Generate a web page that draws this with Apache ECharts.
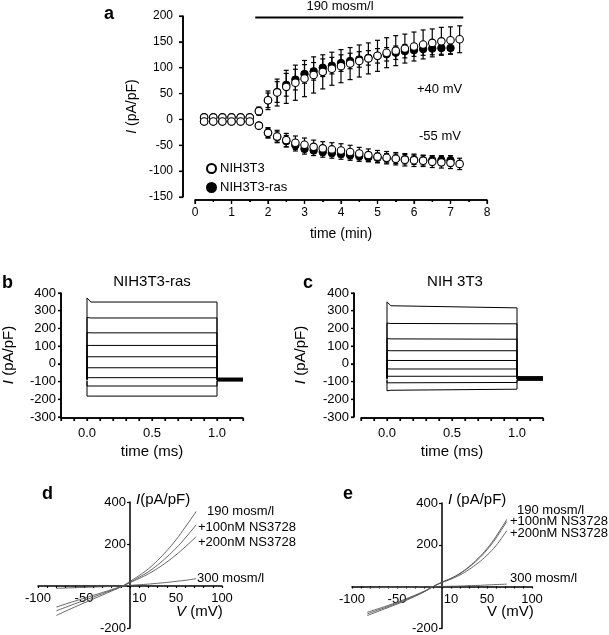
<!DOCTYPE html>
<html>
<head>
<meta charset="utf-8">
<script src="https://cdn.jsdelivr.net/npm/echarts@6/dist/echarts.min.js"></script>
<style>
  html, body { margin: 0; padding: 0; background: #fff; }
  #main { width: 609px; height: 635px; }
</style>
</head>
<body>
<div id="main"></div>
<script>
// ---- panel a : current vs time ----
var tOpen = [0.25, 0.5, 0.75, 1, 1.25, 1.5, 1.75, 2, 2.25, 2.5, 2.75, 3, 3.25, 3.5, 3.75, 4, 4.25, 4.5, 4.75, 5, 5.25, 5.5, 5.75, 6, 6.25, 6.5, 6.75, 7, 7.25];
var tRas = [0.25, 0.5, 0.75, 1, 1.25, 1.5, 1.75, 2, 2.25, 2.5, 2.75, 3, 3.25, 3.5, 3.75, 4, 4.25, 4.5, 4.75, 5, 5.25, 5.5, 5.75, 6, 6.25, 6.5, 6.75, 7];
var openUp = [4, 4, 4, 4, 4, 4, 16, 37, 52, 63, 71, 79, 86, 92, 98, 103, 108, 113, 118, 123, 129, 133, 137, 141, 145, 148, 151, 153, 155];
var openUpErr = [0, 0, 0, 0, 0, 0, 8, 18, 26, 32, 34, 35, 35, 33, 32, 32, 31, 31, 30, 30, 29, 29, 28, 28, 28, 27, 27, 26, 26];
var rasUp = [4, 4, 4, 4, 4, 4, 16, 37, 53, 67, 77, 88, 93, 100, 104, 109, 113, 116, 119, 123, 126, 129, 132, 134, 136, 137, 138, 138];
var rasUpErr = [0, 0, 0, 0, 0, 0, 6, 14, 20, 22, 20, 18, 17, 17, 16, 16, 15, 15, 14, 14, 13, 13, 13, 12, 12, 12, 12, 12];
var openDown = [-4, -4, -4, -4, -4, -4, -12, -26, -33, -40, -45, -49, -53, -56, -58, -60, -63, -66, -69, -72, -74, -76, -78, -79, -80, -82, -83, -84, -86];
var openDownErr = [0, 0, 0, 0, 0, 0, 5, 10, 12, 13, 13, 13, 13, 13, 13, 13, 13, 12, 12, 12, 12, 12, 12, 12, 11, 11, 11, 11, 11];
var rasDown = [-4, -4, -4, -4, -4, -4, -12, -26, -34, -42, -50, -57, -60, -63, -65, -67, -69, -71, -73, -74, -75, -76, -77, -78, -79, -79, -79, -79];
var rasDownErr = [0, 0, 0, 0, 0, 0, 5, 9, 10, 11, 11, 10, 10, 10, 10, 10, 10, 10, 9, 9, 9, 9, 9, 9, 9, 9, 9, 9];
var hypoBar = [[1.65, 197], [7.35, 197]];

// ---- panels b, c : current traces ----
var bStart = [372, 262, 176, 104, 40, -22, -78, -125, -182];
var bLevel = [349, 259, 175, 104, 40, -22, -78, -125, -182];
var bEnd = [349, 259, 175, 104, 40, -22, -78, -125, -182];
var bTail = [-80, -83, -85, -87, -89, -91, -93, -95, -97];
var cStart = [350, 230, 142, 75, 20, -28, -70, -107, -152];
var cLevel = [328, 228, 141, 74, 19, -29, -70, -107, -149];
var cEnd = [316, 226, 139, 74, 19, -29, -70, -105, -143];
var cTail = [-72, -75, -78, -80, -83, -85, -88, -90, -93];
var stepT = [0, 0, 0.03, 1.0, 1.0, 1.2];

// ---- panels d, e : I-V curves ----
var dV = [-80, -60, -40, -20, -8, 0, 10, 20, 30, 40, 50, 60, 72];
var d190 = [-140, -100, -62, -24, 0, 22, 50, 82, 122, 168, 220, 280, 355];
var d100 = [-118, -85, -53, -20, 0, 18, 42, 68, 100, 138, 180, 228, 292];
var d200 = [-100, -72, -45, -17, 0, 16, 36, 58, 84, 114, 148, 186, 235];
var d300 = [-11, -8, -5, -2, 0, 3, 6, 9, 13, 17, 22, 27, 35];
var eV = [-83, -60, -40, -20, -10, 0, 10, 20, 30, 40, 50, 60, 72];
var e190 = [-138, -100, -66, -25, 0, 22, 40, 64, 96, 135, 182, 240, 322];
var e100 = [-130, -95, -62, -24, 0, 21, 39, 62, 93, 130, 176, 232, 312];
var e200 = [-122, -90, -58, -22, 0, 20, 36, 56, 82, 113, 150, 196, 268];
var e300 = [-5, -4, -3, -1, 0, 1, 2, 3, 5, 6, 8, 10, 12];
var ivTickLabels = [-100, -50, 10, 50, 100];

var FONT = '"Liberation Sans", Arial, sans-serif';
var chart = echarts.init(document.getElementById('main'));

function zip(xs, ys) {
    return xs.map(function (x, i) { return [x, ys[i]]; });
}

function steps(min, max, step) {
    var out = [];
    var n = Math.round((max - min) / step);
    for (var k = 0; k <= n; k++) out.push(+(min + k * step).toFixed(6));
    return out;
}

function errData(xs, ys, errs) {
    var out = [];
    for (var i = 0; i < xs.length; i++) {
        if (errs[i] > 0) out.push([xs[i], ys[i] - errs[i], ys[i] + errs[i]]);
    }
    return out;
}

function errSeries(xs, ys, errs) {
    return {
        type: 'custom',
        xAxisIndex: 0,
        yAxisIndex: 0,
        z: 2,
        silent: true,
        encode: { x: 0, y: [1, 2] },
        data: errData(xs, ys, errs),
        renderItem: function (params, api) {
            var x = api.value(0);
            var lo = api.coord([x, api.value(1)]);
            var hi = api.coord([x, api.value(2)]);
            var w = 2.5;
            var st = { stroke: '#000', lineWidth: 1.2 };
            return {
                type: 'group',
                children: [
                    { type: 'line', shape: { x1: lo[0], y1: lo[1], x2: hi[0], y2: hi[1] }, style: st },
                    { type: 'line', shape: { x1: lo[0] - w, y1: lo[1], x2: lo[0] + w, y2: lo[1] }, style: st },
                    { type: 'line', shape: { x1: hi[0] - w, y1: hi[1], x2: hi[0] + w, y2: hi[1] }, style: st }
                ]
            };
        }
    };
}

// detached axis frame (lines + ticks) drawn through the grid's own scales
function frameSeries(idx, xr, yr, xTicks, yTicks, xMinor, f) {
    return {
        type: 'custom',
        xAxisIndex: idx,
        yAxisIndex: idx,
        clip: false,
        silent: true,
        z: 5,
        encode: { x: 0, y: 1 },
        data: [[xr[0], yr[0]]],
        renderItem: function (params, api) {
            var bl = api.coord([xr[0], yr[0]]);
            var br = api.coord([xr[1], yr[0]]);
            var tl = api.coord([xr[0], yr[1]]);
            var lx = bl[0] - f.yOff;
            var ly = bl[1] + f.xOff;
            var st = { stroke: '#000', lineWidth: 1.6 };
            var tk = { stroke: '#000', lineWidth: 1.2 };
            var kids = [
                { type: 'line', shape: { x1: lx, y1: tl[1], x2: lx, y2: bl[1] }, style: st },
                { type: 'line', shape: { x1: bl[0], y1: ly, x2: br[0], y2: ly }, style: st }
            ];
            yTicks.forEach(function (v) {
                var p = api.coord([xr[0], v]);
                kids.push({ type: 'line', shape: { x1: lx - f.len, y1: p[1], x2: lx, y2: p[1] }, style: tk });
            });
            xTicks.forEach(function (v) {
                var p = api.coord([v, yr[0]]);
                kids.push({ type: 'line', shape: { x1: p[0], y1: ly, x2: p[0], y2: ly + f.len }, style: tk });
            });
            xMinor.forEach(function (v) {
                var p = api.coord([v, yr[0]]);
                kids.push({ type: 'line', shape: { x1: p[0], y1: ly, x2: p[0], y2: ly + f.len / 2 }, style: tk });
            });
            return { type: 'group', children: kids };
        }
    };
}

function traceSeries(start, level, end, tail, idx) {
    var list = [];
    for (var i = 0; i < level.length; i++) {
        var vals = [tail[i], start[i], level[i], end[i], tail[i], tail[i]];
        list.push({
            type: 'line',
            xAxisIndex: idx,
            yAxisIndex: idx,
            symbol: 'none',
            silent: true,
            lineStyle: { color: '#000', width: 1 },
            data: zip(stepT, vals)
        });
    }
    return list;
}

function ivSeries(xs, ys, idx) {
    return {
        type: 'line',
        xAxisIndex: idx,
        yAxisIndex: idx,
        symbol: 'none',
        smooth: 0.4,
        silent: true,
        lineStyle: { color: '#555', width: 0.9 },
        data: zip(xs, ys)
    };
}

function lbl(extra) {
    return Object.assign({ color: '#000', fontFamily: FONT, fontSize: 13 }, extra || {});
}
function axLine(w) {
    return { show: true, onZero: false, lineStyle: { color: '#000', width: w || 1.6 } };
}
function ticks(len) {
    return { show: true, length: len, lineStyle: { color: '#000', width: 1.2 } };
}

function traceX(idx, off) {
    return {
        gridIndex: idx, type: 'value', position: 'bottom', min: -0.2, max: 1.2, interval: 0.1, offset: off,
        axisLine: axLine(),
        axisTick: ticks(3),
        splitLine: { show: false },
        axisLabel: lbl({
            margin: 9,
            formatter: function (v) {
                return Math.abs(v * 2 - Math.round(v * 2)) < 1e-6 ? v.toFixed(1) : '';
            }
        }),
        name: 'time (ms)', nameLocation: 'middle', nameGap: 26,
        nameTextStyle: { color: '#000', fontFamily: FONT, fontSize: 15 }
    };
}

function traceY(idx, off, gap) {
    return {
        gridIndex: idx, type: 'value', position: 'left', min: -300, max: 400, interval: 100, offset: off,
        axisLine: axLine(),
        axisTick: ticks(3),
        splitLine: { show: false },
        axisLabel: lbl({ margin: 5 }),
        name: '{i|I} (pA/pF)', nameLocation: 'middle', nameGap: gap, nameRotate: 90,
        nameTextStyle: {
            color: '#000', fontFamily: FONT, fontSize: 15,
            rich: { i: { fontStyle: 'italic', fontSize: 15, fontFamily: FONT, color: '#000' } }
        }
    };
}

// the I-V axes cross at zero; negative offsets pull them into the grid
function ivX(idx) {
    return {
        gridIndex: idx, type: 'value', position: 'bottom', min: -100, max: 100, interval: 10, offset: -42,
        axisLine: axLine(1.5),
        axisTick: ticks(2),
        splitLine: { show: false },
        axisLabel: lbl({
            margin: 6,
            showMinLabel: true, showMaxLabel: true,
            formatter: function (v) {
                return ivTickLabels.indexOf(Math.round(v)) >= 0 ? String(Math.round(v)) : '';
            }
        })
    };
}

function ivY(idx, off) {
    return {
        gridIndex: idx, type: 'value', position: 'left', min: -200, max: 400, interval: 200, offset: off,
        axisLine: axLine(1.5),
        axisTick: ticks(3),
        splitLine: { show: false },
        axisLabel: lbl({
            margin: 4,
            formatter: function (v) { return v === 0 ? '' : String(v); }
        })
    };
}

function txt(x, y, s, opts) {
    return {
        type: 'text', x: x, y: y, silent: true,
        style: Object.assign({ text: s, fill: '#000', font: '13px ' + FONT, textVerticalAlign: 'middle' }, opts || {})
    };
}
var italicRich = { i: { fontStyle: 'italic', fontSize: 15, fontFamily: FONT } };

var option = {
    animation: false,
    backgroundColor: '#fff',
    textStyle: { fontFamily: FONT },
    grid: [
        { left: 195, top: 16, width: 292, height: 181 },
        { left: 61, top: 293, width: 182, height: 124 },
        { left: 361, top: 293, width: 182, height: 124 },
        { left: 38, top: 502, width: 184, height: 126 },
        { left: 352, top: 503, width: 180, height: 126 }
    ],
    legend: {
        left: 201, top: 157, orient: 'vertical', itemGap: 6,
        itemWidth: 9, itemHeight: 9, icon: 'circle',
        textStyle: { color: '#000', fontFamily: FONT, fontSize: 13, padding: [0, 0, 0, -1] },
        data: ['NIH3T3', 'NIH3T3-ras']
    },
    xAxis: [
        {
            gridIndex: 0, type: 'value', position: 'bottom', min: 0, max: 8, interval: 1, offset: 3,
            axisLine: axLine(),
            axisTick: ticks(4),
            minorTick: { show: true, splitNumber: 2, length: 2, lineStyle: { color: '#000', width: 1.2 } },
            splitLine: { show: false },
            axisLabel: lbl({ fontSize: 12, margin: 7 }),
            name: 'time (min)', nameLocation: 'middle', nameGap: 27,
            nameTextStyle: { color: '#000', fontFamily: FONT, fontSize: 14 }
        },
        traceX(1, 1), traceX(2, 1), ivX(3), ivX(4)
    ],
    yAxis: [
        {
            gridIndex: 0, type: 'value', position: 'left', min: -150, max: 200, interval: 50, offset: 12,
            axisLine: axLine(),
            axisTick: ticks(4),
            splitLine: { show: false },
            axisLabel: lbl({ fontSize: 12, margin: 10 }),
            name: '{i|I} (pA/pF)', nameLocation: 'middle', nameGap: 44, nameRotate: 90,
            nameTextStyle: {
                color: '#000', fontFamily: FONT, fontSize: 14,
                rich: { i: { fontStyle: 'italic', fontSize: 14, fontFamily: FONT, color: '#000' } }
            }
        },
        traceY(1, 0, 45), traceY(2, 7, 46), ivY(3, -92), ivY(4, -90)
    ],
    graphic: [
        txt(104, 14, 'a', { font: 'bold 18px ' + FONT }),
        txt(340, 6, '190 mosm/l', { textAlign: 'center' }),
        txt(417, 89, '+40 mV'),
        txt(419, 136, '-55 mV'),
        txt(2, 283, 'b', { font: 'bold 18px ' + FONT }),
        txt(152, 282, 'NIH3T3-ras', { textAlign: 'center', font: '15px ' + FONT }),
        txt(303, 283, 'c', { font: 'bold 18px ' + FONT }),
        txt(455, 282, 'NIH 3T3', { textAlign: 'center', font: '15px ' + FONT }),
        txt(42, 494, 'd', { font: 'bold 18px ' + FONT }),
        txt(136, 500, '{i|I}(pA/pF)', { font: '15px ' + FONT, rich: italicRich }),
        txt(176, 612, '{i|V} (mV)', { font: '15px ' + FONT, rich: italicRich }),
        txt(207, 511, '190 mosm/l'),
        txt(198, 527, '+100nM NS3728'),
        txt(198, 542, '+200nM NS3728'),
        txt(197, 578, '300 mosm/l'),
        txt(343, 494, 'e', { font: 'bold 18px ' + FONT }),
        txt(448, 500, '{i|I} (pA/pF)', { font: '15px ' + FONT, rich: italicRich }),
        txt(487, 612, 'V (mV)', { font: '15px ' + FONT }),
        txt(517, 510, '190 mosm/l'),
        txt(510, 521, '+100nM NS3728'),
        txt(510, 533, '+200nM NS3728'),
        txt(510, 578, '300 mosm/l')
    ],
    series: [].concat(
        [
            frameSeries(0, [0, 8], [-150, 200], steps(0, 8, 1), steps(-150, 200, 50),
                steps(0.5, 7.5, 1), { xOff: 3, yOff: 12, len: 4 }),
            frameSeries(1, [-0.2, 1.2], [-300, 400], steps(-0.2, 1.2, 0.1), steps(-300, 400, 100),
                [], { xOff: 1, yOff: 0, len: 3 }),
            frameSeries(2, [-0.2, 1.2], [-300, 400], steps(-0.2, 1.2, 0.1), steps(-300, 400, 100),
                [], { xOff: 1, yOff: 7, len: 3 }),
            {
                type: 'line', xAxisIndex: 0, yAxisIndex: 0, symbol: 'none', silent: true,
                lineStyle: { color: '#000', width: 2 }, data: hypoBar
            },
            errSeries(tRas, rasUp, rasUpErr),
            errSeries(tRas, rasDown, rasDownErr),
            errSeries(tOpen, openUp, openUpErr),
            errSeries(tOpen, openDown, openDownErr),
            {
                name: 'NIH3T3-ras', type: 'scatter', xAxisIndex: 0, yAxisIndex: 0, z: 3,
                symbol: 'circle', symbolSize: 7.5,
                itemStyle: { color: '#000', borderColor: '#000', borderWidth: 1, opacity: 1 },
                data: zip(tRas, rasUp)
            },
            {
                name: 'NIH3T3-ras', type: 'scatter', xAxisIndex: 0, yAxisIndex: 0, z: 3,
                symbol: 'circle', symbolSize: 7.5,
                itemStyle: { color: '#000', borderColor: '#000', borderWidth: 1, opacity: 1 },
                data: zip(tRas, rasDown)
            },
            {
                name: 'NIH3T3', type: 'scatter', xAxisIndex: 0, yAxisIndex: 0, z: 4,
                symbol: 'circle', symbolSize: 7.5,
                itemStyle: { color: '#fff', borderColor: '#000', borderWidth: 1.1, opacity: 1 },
                data: zip(tOpen, openUp)
            },
            {
                name: 'NIH3T3', type: 'scatter', xAxisIndex: 0, yAxisIndex: 0, z: 4,
                symbol: 'circle', symbolSize: 7.5,
                itemStyle: { color: '#fff', borderColor: '#000', borderWidth: 1.1, opacity: 1 },
                data: zip(tOpen, openDown)
            }
        ],
        traceSeries(bStart, bLevel, bEnd, bTail, 1),
        traceSeries(cStart, cLevel, cEnd, cTail, 2),
        [
            ivSeries(dV, d190, 3), ivSeries(dV, d100, 3), ivSeries(dV, d200, 3), ivSeries(dV, d300, 3),
            ivSeries(eV, e190, 4), ivSeries(eV, e100, 4), ivSeries(eV, e200, 4), ivSeries(eV, e300, 4)
        ]
    )
};

chart.setOption(option);
</script>
</body>
</html>
